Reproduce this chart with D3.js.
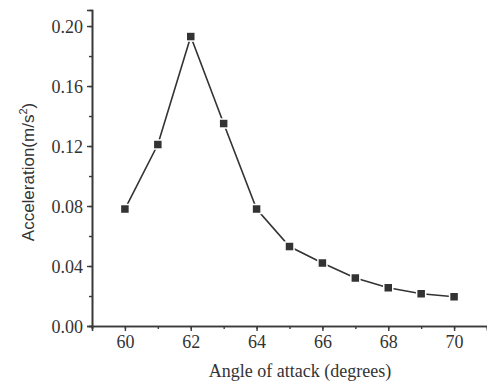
<!DOCTYPE html>
<html><head><meta charset="utf-8">
<script src="https://cdn.jsdelivr.net/npm/d3@7"></script>
<style>body{margin:0;background:#fff}svg{display:block}</style>
</head><body>
<svg id="c" width="487" height="383"></svg>
<script>
const angles = [60, 61, 62, 63, 64, 65, 66, 67, 68, 69, 70];
const accel = [0.078, 0.121, 0.193, 0.135, 0.078, 0.053, 0.042, 0.032, 0.0255, 0.0215, 0.0195];
const xTicks = [60, 62, 64, 66, 68, 70];
const yTicks = [0, 0.04, 0.08, 0.12, 0.16, 0.20];
const xLabel = "Angle of attack (degrees)";

const svg = d3.select("#c");
const x = d3.scaleLinear().domain([59, 71]).range([92, 487]);
const y = d3.scaleLinear().domain([0, 0.2107]).range([326, 10]);
const axisColor = "#3a3a3a";
const serif = "'Liberation Serif', 'Times New Roman', serif";

// x axis
const gx = svg.append("g").attr("transform", "translate(0,326)");
gx.call(d3.axisBottom(x).tickValues(d3.range(59, 72, 1)).tickSize(3).tickFormat(""));
gx.append("g").call(d3.axisBottom(x).tickValues(xTicks).tickSize(5).tickPadding(4).tickFormat(d3.format("d")));
gx.selectAll(".domain").attr("stroke", axisColor).attr("stroke-width", 1.6);
gx.selectAll(".tick line").attr("stroke", axisColor).attr("stroke-width", 1.4);
gx.selectAll("text").style("font-family", serif).style("font-size", "18px").attr("fill", "#333");

// y axis
const gy = svg.append("g").attr("transform", "translate(92,0)");
gy.call(d3.axisLeft(y).tickValues(d3.range(0, 0.21, 0.02)).tickSize(3).tickFormat(""));
gy.append("g").call(d3.axisLeft(y).tickValues(yTicks).tickSize(5).tickPadding(4).tickFormat(d3.format(".2f")));
gy.selectAll(".domain").attr("stroke", axisColor).attr("stroke-width", 1.6);
gy.selectAll(".tick line").attr("stroke", axisColor).attr("stroke-width", 1.4);
gy.selectAll("text").style("font-family", serif).style("font-size", "18px").attr("fill", "#333").attr("dy", "0.35em");

// labels
svg.append("text").attr("x", 300).attr("y", 377).attr("text-anchor", "middle")
  .style("font-family", serif).style("font-size", "18px").attr("fill", "#333").text(xLabel);
const yl = svg.append("text").attr("transform", "translate(34,172) rotate(-90)").attr("text-anchor", "middle")
  .style("font-family", "'Liberation Sans', Arial, sans-serif").style("font-size", "17px").attr("fill", "#333");
yl.append("tspan").text("Acceleration(m/s");
yl.append("tspan").style("font-size", "11px").attr("dy", "-0.6em").text("2");
yl.append("tspan").attr("dy", "0.36em").text(")");

// line
const pts = angles.map((a, i) => [a, accel[i]]);
svg.append("path").datum(pts)
  .attr("d", d3.line().x(d => x(d[0])).y(d => y(d[1])))
  .attr("fill", "none").attr("stroke", "#333").attr("stroke-width", 1.6);
svg.selectAll("rect.m").data(pts).enter().append("rect").attr("class", "m")
  .attr("x", d => x(d[0]) - 4.5).attr("y", d => y(d[1]) - 4.5)
  .attr("width", 9).attr("height", 9)
  .attr("fill", "#333").attr("stroke", "#fff").attr("stroke-width", 1.5);
</script>
</body></html>
